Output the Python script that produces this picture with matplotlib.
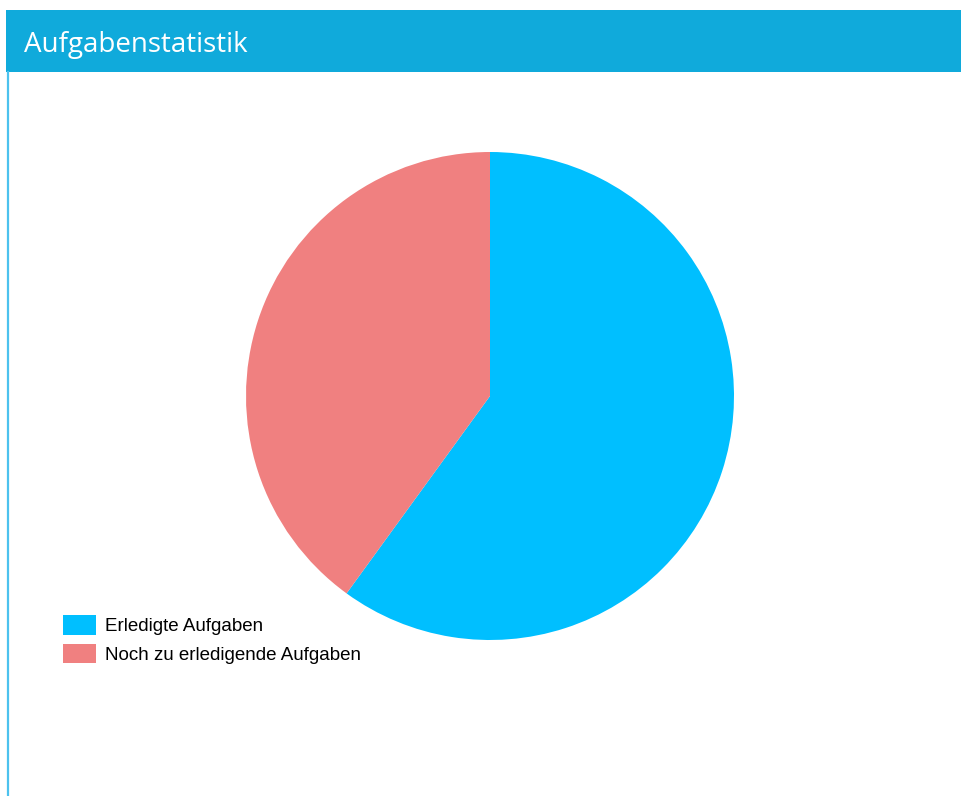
import matplotlib.pyplot as plt
from matplotlib.patches import Rectangle
from matplotlib.lines import Line2D

# Daten (ca. 60 / 40)
labels = ["Erledigte Aufgaben", "Noch zu erledigende Aufgaben"]
values = [3, 2]
colors = ["#00BFFF", "#F08080"]
title = "Aufgabenstatistik"

W, H = 961, 796
fig = plt.figure(figsize=(W / 100, H / 100), dpi=100)
fig.patch.set_facecolor("white")

# Kopfzeile
fig.patches.append(Rectangle((6 / W, 1 - 72 / H), 1 - 6 / W, 62 / H,
                             transform=fig.transFigure, facecolor="#10AADB",
                             edgecolor="none", zorder=0))
fig.lines.append(Line2D([7.5 / W, 7.5 / W], [0, 1 - 72 / H],
                        transform=fig.transFigure, color="#4CC2EE",
                        linewidth=1.6))
fig.text(24 / W, 1 - 45 / H, title, color="white", fontsize=20,
         family="Open Sans", va="center", ha="left")

# Kreisdiagramm
ax = fig.add_axes([246 / W, 1 - 640 / H, 488 / W, 488 / H])
wedges, _ = ax.pie(values, colors=colors, startangle=90, counterclock=False,
                   radius=1.0, wedgeprops=dict(linewidth=0))
ax.set_xlim(-1, 1)
ax.set_ylim(-1, 1)
ax.set_aspect("equal")
ax.axis("off")

leg = fig.legend(wedges, labels, loc="upper left",
                 bbox_to_anchor=(63 / W, 1 - 615 / H), frameon=False,
                 prop={"family": "Liberation Sans", "size": 13.5},
                 handlelength=1.78, handleheight=1.25, handletextpad=0.45,
                 labelspacing=0.45, borderpad=0, borderaxespad=0)

fig.savefig("out.png", dpi=100)
